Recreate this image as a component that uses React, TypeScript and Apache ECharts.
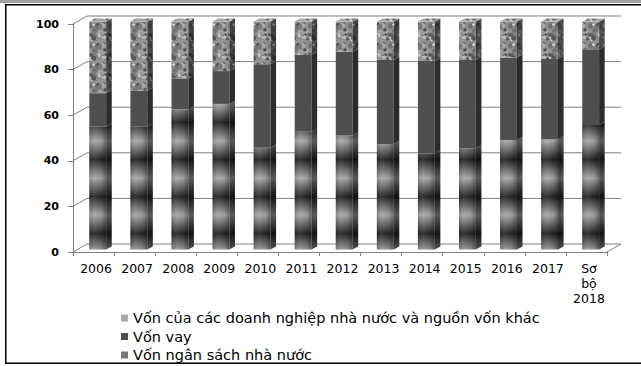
import React, { useEffect, useRef } from "react";
import * as echarts from "echarts";

const categories = ["2006", "2007", "2008", "2009", "2010", "2011", "2012", "2013", "2014", "2015", "2016", "2017", "Sơ\nbộ\n2018"];
const stateBudget = [53.9, 53.9, 61.5, 63.9, 44.7, 51.7, 50.0, 46.3, 42.2, 44.4, 48.1, 48.4, 54.6];
const loans = [14.7, 15.8, 13.6, 14.4, 36.6, 33.7, 36.8, 36.9, 40.5, 38.8, 36.2, 35.2, 33.3];
const enterpriseOther = [31.4, 30.3, 24.9, 21.7, 18.7, 14.6, 13.2, 16.8, 17.3, 16.8, 15.7, 16.4, 12.1];
const yTicks = [0, 20, 40, 60, 80, 100];
const nameOther = "Vốn của các doanh nghiệp nhà nước và nguồn vốn khác";
const nameLoan = "Vốn vay";
const nameBudget = "Vốn ngân sách nhà nước";

const DX = 14;
const DY = -8;
const F = 0.3;
const B = 0.7;
const BAR_FRAC = 0.41;

function hash(a: number, b: number): number {
  let h = (Math.imul(a + 17, 374761393) + Math.imul(b + 31, 668265263)) >>> 0;
  h = Math.imul(h ^ (h >>> 13), 1274126177) >>> 0;
  h = (h ^ (h >>> 16)) >>> 0;
  return (h & 1023) / 1023;
}

function speckle(size: number, base: number, lo: number, hi: number): string {
  const c = document.createElement("canvas");
  c.width = size;
  c.height = size;
  const g = c.getContext("2d")!;
  g.fillStyle = `rgb(${base},${base},${base})`;
  g.fillRect(0, 0, size, size);
  for (let k = 0; k < 40; k++) {
    const x = hash(k, 1) * size;
    const y = hash(k, 2) * size;
    const r = 0.8 + hash(k, 3) * 1.8;
    const v = Math.round(lo + (hi - lo) * hash(k, 4));
    g.fillStyle = `rgb(${v},${v},${v})`;
    for (const ox of [-size, 0, size]) {
      for (const oy of [-size, 0, size]) {
        g.beginPath();
        g.arc(x + ox, y + oy, r, 0, Math.PI * 2);
        g.fill();
      }
    }
  }
  return c.toDataURL();
}

function bandGradient(light: string, dark: string) {
  const y0 = 20;
  const y1 = 252;
  const period = 37;
  const stops: { offset: number; color: string }[] = [];
  for (let y = 30; y <= y1; y += period) {
    const l = (y - y0) / (y1 - y0);
    const d = (y + period / 2 - y0) / (y1 - y0);
    if (l <= 1) stops.push({ offset: Math.max(0, l), color: light });
    if (d <= 1) stops.push({ offset: d, color: dark });
  }
  stops.unshift({ offset: 0, color: dark });
  stops.push({ offset: 1, color: light });
  return { type: "linear", x: 0, y: y0, x2: 0, y2: y1, global: true, colorStops: stops };
}

function makeBarRender(front: any, side: any, top: any, isTop: boolean, shade: boolean) {
  return (params: any, api: any) => {
    const i = api.value(0);
    const lo = api.value(1);
    const hi = api.value(2);
    const p0 = api.coord([i, lo]);
    const p1 = api.coord([i, hi]);
    const band = api.size([1, 0])[0];
    const w = band * BAR_FRAC;
    const xl = p0[0] - w / 2 + DX * F;
    const xr = xl + w;
    const yb = p0[1] + DY * F;
    const yt = p1[1] + DY * F;
    const dx = DX * (B - F);
    const dy = DY * (B - F);
    const children: any[] = [
      { type: "rect", shape: { x: xl, y: yt, width: w, height: yb - yt }, style: { fill: front } },
      {
        type: "polygon",
        shape: { points: [[xr, yt], [xr + dx, yt + dy], [xr + dx, yb + dy], [xr, yb]] },
        style: { fill: side },
      },
    ];
    if (shade) {
      children.push({
        type: "rect",
        shape: { x: xl, y: yt, width: w, height: yb - yt },
        style: {
          fill: {
            type: "linear", x: 0, y: 0, x2: 1, y2: 0,
            colorStops: [
              { offset: 0, color: "rgba(0,0,0,0.18)" },
              { offset: 0.35, color: "rgba(255,255,255,0.06)" },
              { offset: 0.7, color: "rgba(0,0,0,0.05)" },
              { offset: 1, color: "rgba(0,0,0,0.35)" },
            ],
          },
        },
      });
    }
    if (isTop) {
      children.push({
        type: "polygon",
        shape: { points: [[xl, yt], [xl + dx, yt + dy], [xr + dx, yt + dy], [xr, yt]] },
        style: { fill: top },
      });
    }
    return { type: "group", children };
  };
}

function frameRender(params: any, api: any) {
  const v = api.value(1);
  const p = api.coord([0, v]);
  const cs = params.coordSys;
  const x0 = cs.x;
  const x1 = cs.x + cs.width;
  const y = p[1];
  const stroke = { stroke: "#808080", lineWidth: 1 };
  const children: any[] = [
    { type: "line", shape: { x1: x0, y1: y, x2: x0 + DX, y2: y + DY }, style: stroke },
    { type: "line", shape: { x1: x0 + DX, y1: y + DY, x2: x1 + DX, y2: y + DY }, style: stroke },
  ];
  if (v === 0) {
    children.push({ type: "line", shape: { x1: x1, y1: y, x2: x1 + DX, y2: y + DY }, style: stroke });
  }
  return { type: "group", children };
}

export default function App() {
  const ref = useRef<HTMLDivElement>(null);
  useEffect(() => {
    const el = ref.current!;
    const chart = echarts.init(el, null, { renderer: "svg" });
    const pat = (src: string) => ({ image: src, repeat: "repeat", imageWidth: 20, imageHeight: 20 });
    const otherFront = pat(speckle(20, 145, 60, 220));
    const otherSide = pat(speckle(20, 70, 30, 120));
    const otherTop = pat(speckle(20, 165, 90, 230));

    const budgetData = stateBudget.map((v, i) => [i, 0, v]);
    const loanData = loans.map((v, i) => [i, stateBudget[i], stateBudget[i] + v]);
    const otherData = enterpriseOther.map((v, i) => [i, stateBudget[i] + loans[i], stateBudget[i] + loans[i] + v]);

    const option: any = {
      animation: false,
      backgroundColor: "#ffffff",
      textStyle: { fontFamily: "DejaVu Sans" },
      grid: { left: 73, right: 34, top: 24, bottom: 114 },
      xAxis: {
        type: "category",
        data: categories,
        axisLine: { show: true, lineStyle: { color: "#808080", width: 1 } },
        axisTick: { show: true, length: 4, lineStyle: { color: "#808080" } },
        axisLabel: {
          color: "#000",
          fontFamily: "DejaVu Sans",
          fontSize: 12.5,
          lineHeight: 15,
          margin: 9,
          padding: [0, 0, 0, 5],
          interval: 0,
        },
        splitLine: { show: false },
      },
      yAxis: {
        type: "value",
        min: 0,
        max: 100,
        interval: 20,
        axisLine: { show: true, lineStyle: { color: "#808080", width: 1 } },
        axisTick: { show: true, length: 5, lineStyle: { color: "#808080" } },
        axisLabel: {
          color: "#000",
          fontFamily: "DejaVu Sans",
          fontWeight: "bold",
          fontSize: 11,
          margin: 14,
        },
        splitLine: { show: false },
      },
      legend: {
        orient: "vertical",
        left: 121,
        top: 308.75,
        height: 57,
        padding: 0,
        itemWidth: 7,
        itemHeight: 7,
        itemGap: 0,
        icon: "rect",
        selectedMode: false,
        textStyle: { fontFamily: "DejaVu Sans", fontSize: 14.5, color: "#000", lineHeight: 18.5 },
        data: [
          { name: nameOther, itemStyle: { color: "#a9a9a9" } },
          { name: nameLoan, itemStyle: { color: "#4d4d4d" } },
          { name: nameBudget, itemStyle: { color: "#777777" } },
        ],
      },
      graphic: [
        { type: "rect", shape: { x: 0, y: 0, width: 641, height: 3 }, style: { fill: "#a0a0a0" }, silent: true },
        { type: "line", shape: { x1: 5, y1: 4.75, x2: 641, y2: 4.75 }, style: { stroke: "#000", lineWidth: 1.5 }, silent: true },
        { type: "line", shape: { x1: 5.75, y1: 4, x2: 5.75, y2: 364 }, style: { stroke: "#000", lineWidth: 1.5 }, silent: true },
        { type: "line", shape: { x1: 5, y1: 363.25, x2: 641, y2: 363.25 }, style: { stroke: "#000", lineWidth: 1.5 }, silent: true },
      ],
      series: [
        {
          type: "custom",
          name: "frame",
          z: 1,
          silent: true,
          data: yTicks.map((v) => [0, v]),
          encode: { x: 0, y: 1 },
          renderItem: frameRender,
        },
        {
          type: "custom",
          name: nameBudget,
          z: 2,
          itemStyle: { color: "#777777" },
          data: budgetData,
          encode: { x: 0, y: [1, 2] },
          renderItem: makeBarRender(bandGradient("#a9a9a9", "#252525"), bandGradient("#5a5a5a", "#141414"), "#777", false, true),
        },
        {
          type: "custom",
          name: nameLoan,
          z: 2,
          itemStyle: { color: "#4d4d4d" },
          data: loanData,
          encode: { x: 0, y: [1, 2] },
          renderItem: makeBarRender("#4f4f4f", "#2c2c2c", "#666", false, false),
        },
        {
          type: "custom",
          name: nameOther,
          z: 2,
          itemStyle: { color: "#a9a9a9" },
          data: otherData,
          encode: { x: 0, y: [1, 2] },
          renderItem: makeBarRender(otherFront, otherSide, otherTop, true, false),
        },
      ],
    };
    chart.setOption(option);
    return () => chart.dispose();
  }, []);
  return (
    <div
      ref={ref}
      style={{ position: "fixed", left: 0, top: 0, width: 641, height: 366, background: "#fff" }}
    />
  );
}
